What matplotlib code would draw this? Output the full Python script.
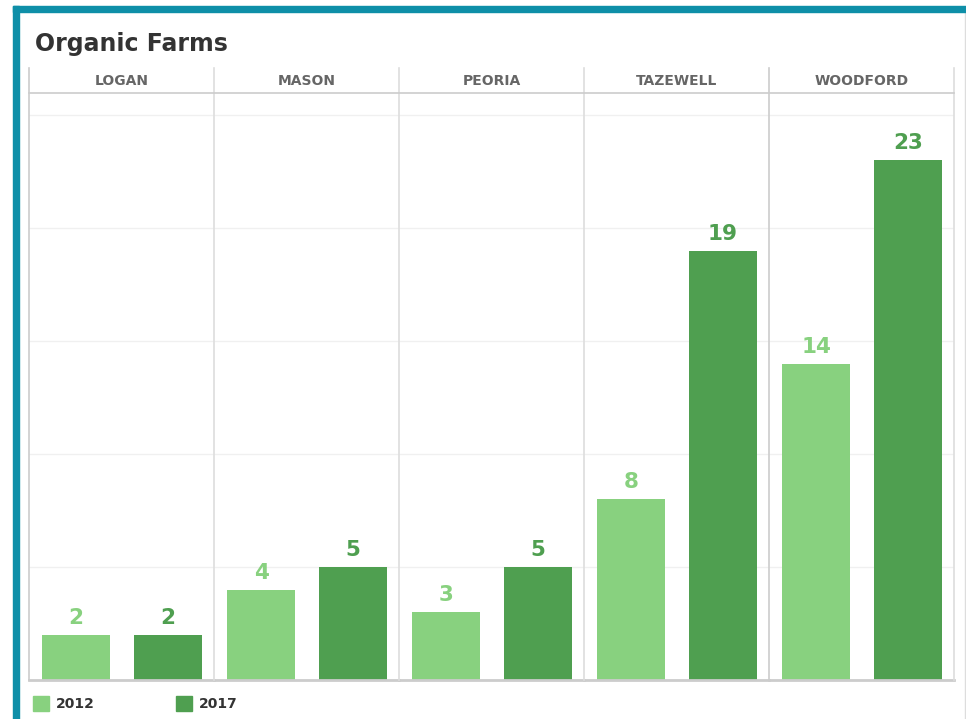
import matplotlib.pyplot as plt
from matplotlib.patches import Rectangle
from matplotlib.lines import Line2D

plt.rcParams['font.family'] = ['DejaVu Sans']

counties = ["LOGAN", "MASON", "PEORIA", "TAZEWELL", "WOODFORD"]
years = ["2012", "2017"]
farms_2012 = [2, 4, 3, 8, 14]
farms_2017 = [2, 5, 5, 19, 23]

light = "#88d17f"
dark = "#4f9f50"
teal = "#0e8fa8"

W, H = 966, 719
fig = plt.figure(figsize=(W / 100, H / 100), dpi=100)


def fx(px):
    return px / W


def fy(py):
    return 1 - py / H


# card frame
fig.patches.append(Rectangle((fx(13), fy(12)), fx(966 - 13), 6 / H,
                             transform=fig.transFigure, color=teal, zorder=5))
fig.patches.append(Rectangle((fx(13), 0), 6 / W, fy(6),
                             transform=fig.transFigure, color=teal, zorder=5))
fig.lines.append(Line2D([fx(965), fx(965)], [0, fy(12)], transform=fig.transFigure,
                        color="#dddddd", lw=1))

fig.text(fx(35), fy(44), "Organic Farms", fontsize=17, fontweight="bold",
         color="#333333", va="center", ha="left")

left, panel_w = 29, 185
top_hdr, hdr_bot, bottom = 68, 93, 680
px_per_unit = 565 / 25
ymax = (bottom - hdr_bot) / px_per_unit

for i, name in enumerate(counties):
    x0 = left + panel_w * i
    ax = fig.add_axes([fx(x0), fy(bottom), panel_w / W, (bottom - hdr_bot) / H])
    ax.set_xlim(-0.511, 1.5)
    ax.set_ylim(0, ymax)
    for v in [5, 10, 15, 20, 25]:
        ax.axhline(v, color="#f0f0f0", lw=1, zorder=0)
    vals = [farms_2012[i], farms_2017[i]]
    cols = [light, dark]
    ax.bar([0, 1], vals, width=0.739, color=cols, zorder=2)
    for xi, (v, c) in enumerate(zip(vals, cols)):
        ax.text(xi, v + 0.3, str(v), ha="center", va="bottom", fontsize=15.5,
                fontweight="bold", color=c)
    for s in ["top", "right", "left"]:
        ax.spines[s].set_visible(False)
    ax.spines["bottom"].set_color("#cccccc")
    ax.spines["bottom"].set_linewidth(2)
    ax.set_xticks([])
    ax.set_yticks([])
    ax.patch.set_alpha(0)
    fig.text(fx(x0 + panel_w / 2), fy(81), name, ha="center", va="center",
             fontsize=10, fontweight="bold", color="#666666")

# panel dividers and header rule
for i in range(6):
    xp = left + panel_w * i
    c = "#cccccc" if i in (0, 4) else "#dddddd"
    fig.lines.append(Line2D([fx(xp), fx(xp)], [fy(bottom), fy(top_hdr)],
                            transform=fig.transFigure, color=c, lw=1.2))
fig.lines.append(Line2D([fx(left), fx(left + panel_w * 5)], [fy(hdr_bot), fy(hdr_bot)],
                        transform=fig.transFigure, color="#cccccc", lw=1.2))

# legend
for xs, lab, c in [(33, years[0], light), (176, years[1], dark)]:
    fig.patches.append(Rectangle((fx(xs), fy(711)), 16 / W, 15 / H,
                                 transform=fig.transFigure, color=c))
    fig.text(fx(xs + 23), fy(704), lab, fontsize=10, fontweight="bold",
             color="#333333", va="center", ha="left")

fig.savefig("out.png", dpi=100)
